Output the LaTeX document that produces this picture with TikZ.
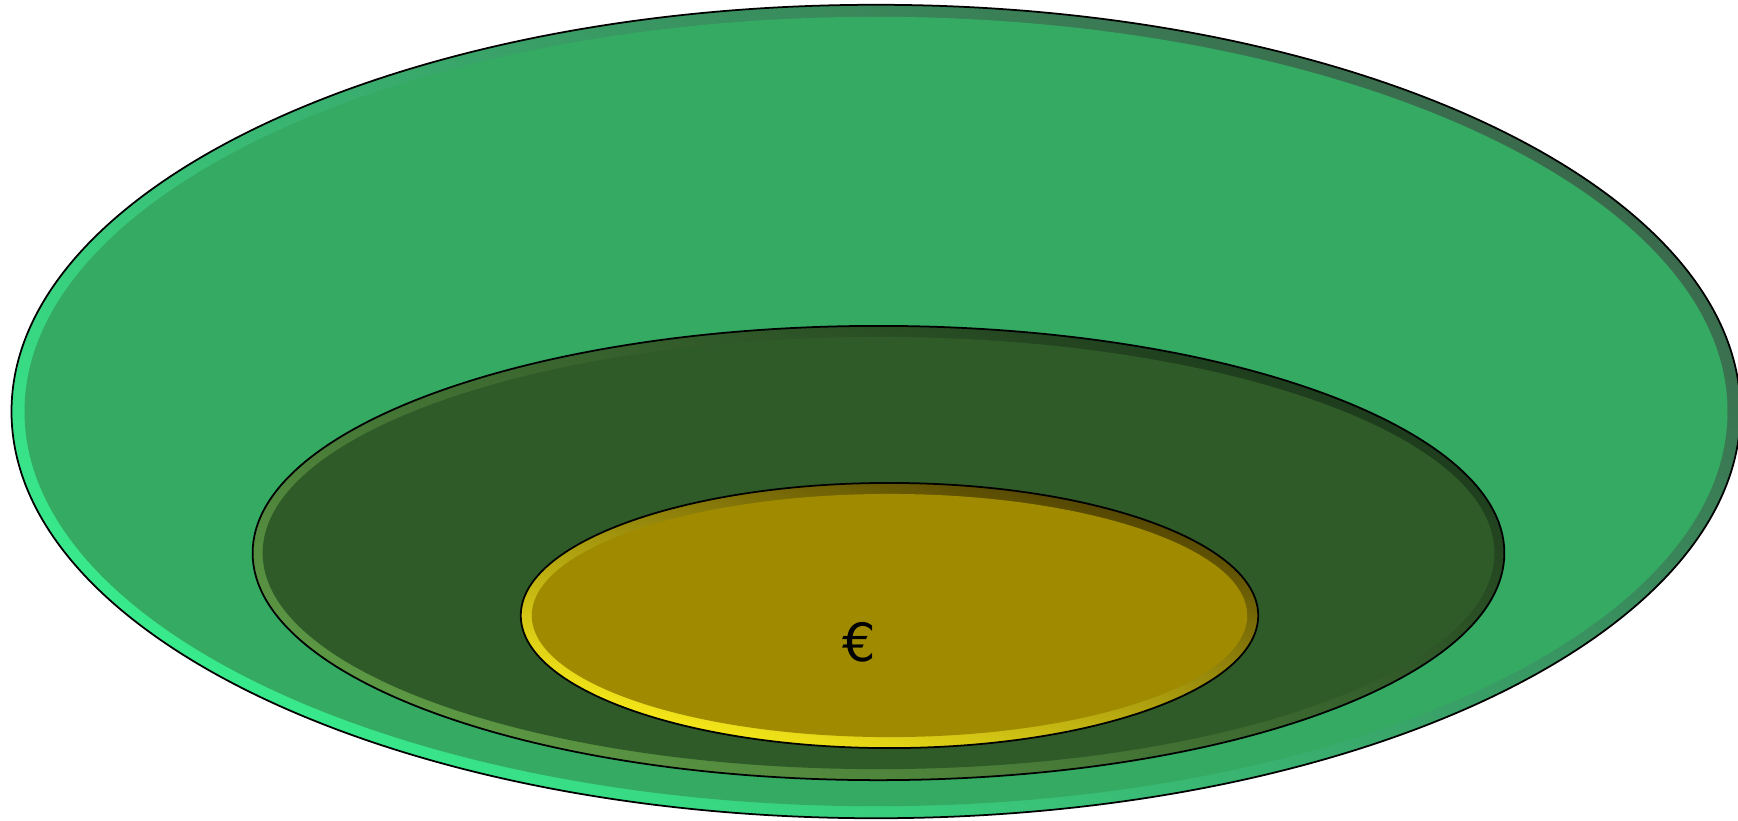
\documentclass[tikz,border=0pt]{standalone}
\usepackage{fontspec}
\newfontfamily\fuenteEuro{DejaVu Sans}
\usetikzlibrary{shapes.geometric}
\definecolor{verdeExterior}{HTML}{35AA63}
\definecolor{verdeMedio}{HTML}{2F5B29}
\definecolor{oroInterior}{HTML}{A08B00}
\definecolor{bordeClaroExt}{HTML}{38EA8C}
\definecolor{bordeOscuroExt}{HTML}{3A6A4C}
\definecolor{bordeClaroMed}{HTML}{5E9A45}
\definecolor{bordeOscuroMed}{HTML}{1B3A1B}
\definecolor{bordeClaroInt}{HTML}{FFF11A}
\definecolor{bordeOscuroInt}{HTML}{4A3C00}
\tikzset{
  anillo/.style={ellipse, draw=black, line width=0.5pt,
    inner sep=0pt, outer sep=0pt},
  fondo/.style={ellipse, inner sep=0pt, outer sep=0pt},
  moneda/.style={font=\fuenteEuro\fontsize{15}{18}\selectfont, text=black},
}
\begin{document}
\begin{tikzpicture}[x=0.01cm, y=-0.01cm]
  \useasboundingbox (0,0) rectangle (1738,820);
  % elipse exterior
  \node[anillo, minimum width=17.28cm, minimum height=8.13cm,
    top color=bordeOscuroExt, bottom color=bordeClaroExt, shading angle=-35]
    (exterior) at (876,411.5) {};
  \node[fondo, fill=verdeExterior, minimum width=17.02cm, minimum height=7.89cm]
    (exteriorFondo) at (exterior) {};
  % elipse media
  \node[anillo, minimum width=12.51cm, minimum height=4.54cm,
    top color=bordeOscuroMed, bottom color=bordeClaroMed, shading angle=-25]
    (medio) at (878.5,553) {};
  \node[fondo, fill=verdeMedio, minimum width=12.31cm, minimum height=4.32cm]
    (medioFondo) at (medio) {};
  % elipse interior
  \node[anillo, minimum width=7.37cm, minimum height=2.65cm,
    top color=bordeOscuroInt, bottom color=bordeClaroInt, shading angle=-15]
    (interior) at (889.5,615.5) {};
  \node[fondo, fill=oroInterior, minimum width=7.15cm, minimum height=2.43cm]
    (interiorFondo) at (interior) {};
  \node[moneda] (euro) at (859,642) {€};
\end{tikzpicture}
\end{document}
